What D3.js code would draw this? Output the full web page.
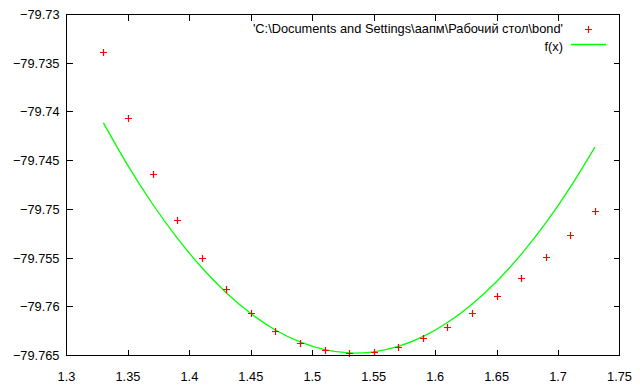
<!DOCTYPE html>
<html>
<head>
<meta charset="utf-8">
<script src="https://cdn.jsdelivr.net/npm/d3@7"></script>
<style>
  body { margin: 0; background: #fff; }
  text { font-family: "Liberation Sans", Arial, sans-serif; font-size: 12.8px; fill: #000; }
</style>
</head>
<body>
<div id="chart"></div>
<script>
// data points
var xs = [1.33, 1.35, 1.37, 1.39, 1.41, 1.43, 1.45, 1.47, 1.49, 1.51, 1.53,
          1.55, 1.57, 1.59, 1.61, 1.63, 1.65, 1.67, 1.69, 1.71, 1.73];
var ys = [-79.73387, -79.74066, -79.74632, -79.75105, -79.75496, -79.75815, -79.76062,
          -79.76251, -79.7637, -79.76442, -79.7647, -79.76463, -79.76412, -79.76323,
          -79.76206, -79.76062, -79.75887, -79.75702, -79.75486, -79.75259, -79.75012];
// fitted curve f(x)
var fx = [1.33, 1.35, 1.37, 1.39, 1.41, 1.43, 1.45, 1.47, 1.49, 1.51, 1.53,
          1.55, 1.57, 1.59, 1.61, 1.63, 1.65, 1.67, 1.69, 1.71, 1.73];
var fy = [-79.74113, -79.74552, -79.74945, -79.75293, -79.75597, -79.75855, -79.76069,
          -79.76238, -79.76361, -79.7644, -79.76474, -79.76462, -79.76407, -79.76307,
          -79.76162, -79.75973, -79.7574, -79.75462, -79.75139, -79.74772, -79.74361];
var xTicks = [1.3, 1.35, 1.4, 1.45, 1.5, 1.55, 1.6, 1.65, 1.7, 1.75];
var yTicks = [-79.765, -79.76, -79.755, -79.75, -79.745, -79.74, -79.735, -79.73];
var seriesNames = ["'C:\\Documents and Settings\\аапм\\Рабочий стол\\bond'", "f(x)"];

var width = 640, height = 387;
var plotL = 66.5, plotR = 619.5, plotT = 14.5, plotB = 355.5;

var x = d3.scaleLinear().domain([1.3, 1.75]).range([plotL, plotR]);
var y = d3.scaleLinear().domain([-79.765, -79.73]).range([plotB, plotT]);

var svg = d3.select('#chart').append('svg').attr('width', width).attr('height', height);

// ticks (inside, mirrored)
var tk = 6;
var ticks = svg.append('g').attr('stroke', '#000').attr('stroke-width', 1).attr('shape-rendering', 'crispEdges');
xTicks.forEach(function(t) {
    var px = Math.round(x(t)) + 0.5;
    if (t > 1.3 && t < 1.75) {
        ticks.append('line').attr('x1', px).attr('x2', px).attr('y1', plotB).attr('y2', plotB - tk);
        ticks.append('line').attr('x1', px).attr('x2', px).attr('y1', plotT).attr('y2', plotT + tk);
    }
    svg.append('text').attr('x', x(t)).attr('y', plotB + 25).attr('text-anchor', 'middle').text(t);
});
yTicks.forEach(function(t) {
    var py = Math.round(y(t) - 0.5) + 0.5;
    if (t > -79.765 && t < -79.73) {
        ticks.append('line').attr('x1', plotL).attr('x2', plotL + tk).attr('y1', py).attr('y2', py);
        ticks.append('line').attr('x1', plotR).attr('x2', plotR - tk).attr('y1', py).attr('y2', py);
    }
    svg.append('text').attr('x', plotL - 7).attr('y', y(t) + 4.5).attr('text-anchor', 'end').text(d3.format('.3~f')(t));
});

// curve
var line = d3.line().x(function(d) { return x(d[0]); }).y(function(d) { return y(d[1]); }).curve(d3.curveNatural);
svg.append('path').datum(d3.zip(fx, fy)).attr('d', line)
    .attr('fill', 'none').attr('stroke', '#00ff00').attr('stroke-width', 1.3);

// points
function cross(g, cx, cy) {
    g.append('path').attr('d', 'M' + (cx - 3.5) + ',' + cy + 'H' + (cx + 3.5) + 'M' + cx + ',' + (cy - 3.5) + 'V' + (cy + 3.5))
        .attr('stroke', '#ff0000').attr('stroke-width', 1.2).attr('fill', 'none');
}
var pts = svg.append('g');
d3.zip(xs, ys).forEach(function(d) {
    cross(pts, Math.round(x(d[0])) + 0.5, Math.round(y(d[1])) + 0.5);
});

// border
svg.append('rect').attr('x', plotL).attr('y', plotT).attr('width', plotR - plotL).attr('height', plotB - plotT)
    .attr('fill', 'none').attr('stroke', '#000').attr('shape-rendering', 'crispEdges');

// key
svg.append('text').attr('x', 563).attr('y', 33).attr('text-anchor', 'end').text(seriesNames[0]);
cross(svg, 588.5, 29.5);
svg.append('text').attr('x', 563).attr('y', 51).attr('text-anchor', 'end').text(seriesNames[1]);
svg.append('line').attr('x1', 571).attr('x2', 606).attr('y1', 44.5).attr('y2', 44.5)
    .attr('stroke', '#00ff00').attr('stroke-width', 1.3);
</script>
</body>
</html>
